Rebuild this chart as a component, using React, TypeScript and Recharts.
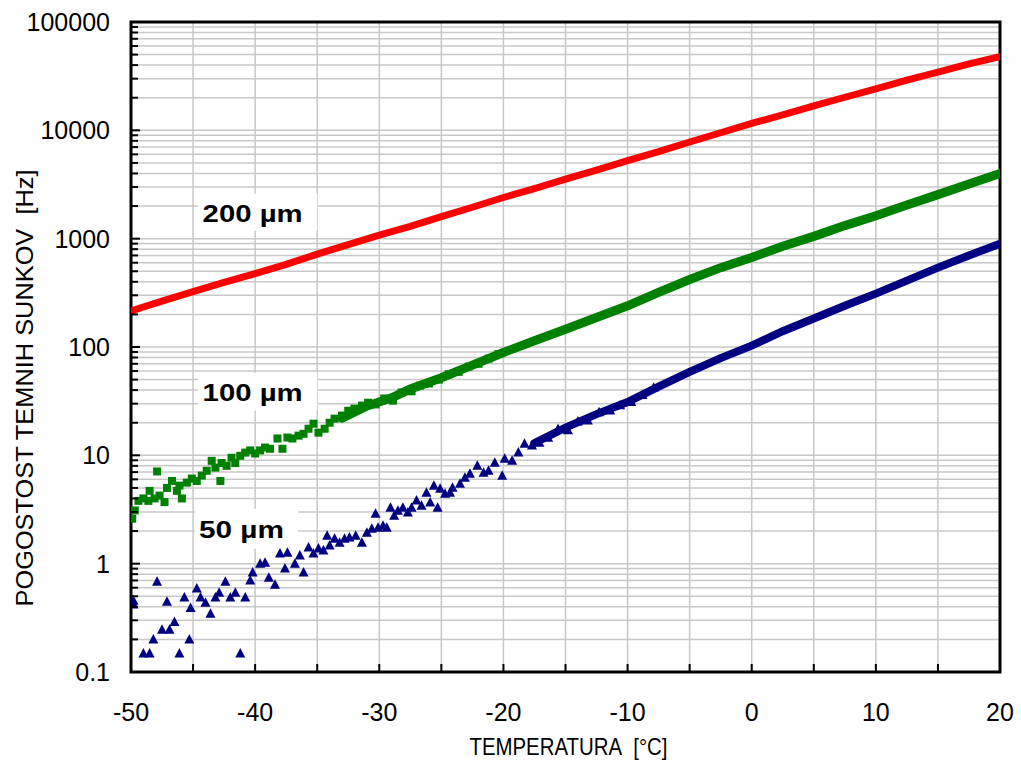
import {
  ComposedChart, Line, Scatter, XAxis, YAxis, CartesianGrid, ReferenceArea,
} from 'recharts';

// [temperature °C, dark count rate Hz]
const red200: [number, number][] = [
  [-50, 215], [-47.5, 265], [-45, 325], [-42.5, 395], [-40, 475], [-37.5, 580],
  [-35, 720], [-32.5, 880], [-30, 1080], [-27.5, 1300], [-25, 1600], [-22.5, 1950],
  [-20, 2400], [-17.5, 2900], [-15, 3550], [-12.5, 4300], [-10, 5250], [-7.5, 6350],
  [-5, 7800], [-2.5, 9500], [0, 11600], [2.5, 13900], [5, 16800], [7.5, 20200],
  [10, 24200], [12.5, 29000], [15, 34500], [17.5, 41000], [20, 48000],
];

const green100Sparse: [number, number][] = [
  [-49.9, 2.6], [-49.7, 3.1], [-49.4, 3.8], [-49.0, 4.0], [-48.6, 3.8], [-48.5, 4.7],
  [-48.1, 4.0], [-47.9, 7.1], [-47.7, 4.25], [-47.3, 3.7], [-47.1, 5.0], [-46.7, 5.8],
  [-46.3, 4.7], [-46.1, 5.25], [-45.9, 4.0], [-45.5, 5.6], [-45.1, 6.1], [-44.7, 5.8],
  [-44.3, 6.5], [-43.9, 7.2], [-43.5, 8.9], [-43.2, 7.7], [-42.8, 5.8], [-42.7, 8.5],
  [-42.3, 8.0], [-41.9, 9.5], [-41.6, 8.5], [-41.2, 9.9], [-40.8, 10.6], [-40.4, 11.1],
  [-40.0, 10.4], [-39.6, 11.1], [-39.2, 11.8], [-38.8, 11.5], [-38.2, 14.3], [-37.8, 11.5],
  [-37.4, 14.6], [-37.0, 14.3], [-36.5, 15.2], [-36.1, 15.8], [-35.7, 17.6], [-35.3, 19.6],
  [-34.9, 16.2], [-34.4, 17.6], [-34.0, 20.0], [-33.6, 21.8], [-33.0, 23.3], [-32.5, 25.8],
  [-32.0, 27], [-31.4, 28.8], [-30.9, 30.6], [-30.3, 29.5], [-29.6, 33.5], [-28.9, 32],
  [-28.2, 38], [-27.4, 39], [-26.7, 44], [-26.0, 46], [-25.2, 50], [-24.4, 56],
  [-23.6, 59], [-22.8, 66], [-22.0, 70], [-21.2, 78], [-20.4, 86],
];

const green100Dense: [number, number][] = [
  [-33, 22], [-31, 28.5], [-29, 34], [-27.5, 41], [-25, 52], [-22.5, 68], [-20, 89],
  [-17.5, 114], [-15, 146], [-12.5, 187], [-10, 240], [-7.5, 320], [-5, 420],
  [-2.5, 540], [0, 670], [2.5, 850], [5, 1050], [7.5, 1320], [10, 1630],
  [12.5, 2050], [15, 2550], [17.5, 3200], [20, 3990],
];

const blue50Sparse: [number, number][] = [
  [-49.8, 0.455], [-49.8, 0.42], [-49.0, 0.148], [-48.5, 0.148], [-48.2, 0.2], [-47.9, 0.68],
  [-47.5, 0.246], [-47.1, 0.446], [-46.9, 0.246], [-46.5, 0.29], [-46.1, 0.148], [-45.7, 0.486],
  [-45.3, 0.2], [-45.2, 0.39], [-44.7, 0.59], [-44.4, 0.486], [-44.0, 0.436], [-43.6, 0.345],
  [-43.2, 0.486], [-42.9, 0.54], [-42.4, 0.68], [-42.0, 0.486], [-41.6, 0.54], [-41.2, 0.148],
  [-40.8, 0.486], [-40.4, 0.7], [-40.2, 0.83], [-39.6, 1.0], [-39.2, 1.02], [-38.9, 0.74],
  [-38.4, 0.64], [-38.0, 1.24], [-37.6, 0.9], [-37.4, 1.26], [-36.8, 1.0], [-36.4, 1.19],
  [-36.1, 0.83], [-35.7, 1.41], [-35.3, 1.24], [-34.9, 1.38], [-34.5, 1.32], [-34.2, 1.81],
  [-34.0, 1.47], [-33.6, 1.7], [-33.2, 1.56], [-32.8, 1.7], [-32.4, 1.74], [-31.9, 1.81],
  [-31.4, 1.56], [-31.0, 1.93], [-30.6, 2.1], [-30.3, 2.89], [-30.1, 2.15], [-29.7, 2.24],
  [-29.4, 2.15], [-29.1, 3.29], [-28.8, 2.77], [-28.5, 3.08], [-28.1, 3.29], [-27.7, 2.96],
  [-27.4, 3.29], [-27.0, 3.82], [-26.6, 3.43], [-26.2, 4.52], [-25.9, 3.66], [-25.6, 5.25],
  [-25.3, 3.29], [-25.1, 4.92], [-24.7, 4.43], [-24.3, 4.52], [-24.1, 5.02], [-23.5, 5.47],
  [-23.1, 6.22], [-22.7, 6.77], [-22.1, 8.03], [-21.6, 6.92], [-21.2, 7.22], [-20.7, 8.55],
  [-20.1, 6.49], [-19.9, 9.31], [-19.3, 8.93], [-18.8, 10.6], [-18.3, 12.8], [-17.7, 12.3],
  [-17.1, 13.1], [-16.4, 14.5], [-15.6, 17.5], [-14.8, 17], [-14.0, 20.5], [-13.2, 21],
  [-12.3, 25], [-11.4, 26], [-10.6, 29], [-9.7, 31], [-8.8, 36], [-7.9, 42],
];

const blue50Dense: [number, number][] = [
  [-17.5, 13.0], [-15, 18], [-12.5, 24], [-10, 31], [-7.5, 43], [-5, 59], [-2.5, 79],
  [0, 103], [2.5, 140], [5, 183], [7.5, 240], [10, 311], [12.5, 410], [15, 540],
  [17.5, 700], [20, 900],
];

const xTicks = [-50, -45, -40, -35, -30, -25, -20, -15, -10, -5, 0, 5, 10, 15, 20];
const decades = [0.1, 1, 10, 100, 1000, 10000];
const yTicks = [...decades.flatMap((d) => [1, 2, 3, 4, 5, 6, 7, 8, 9].map((k) => k * d)), 100000];

const toPts = (arr: [number, number][]) => arr.map(([t, v]) => ({ t, v }));

const FONT = '"Liberation Sans", Arial, sans-serif';
const X_MARGIN = 31;
const Y_MARGIN = 21;

const XTick = (props: any) => {
  const { x, y, payload } = props;
  const axisY = y - X_MARGIN;
  const val = payload.value;
  const inner = val > -50 && val < 20;
  return (
    <g>
      {inner && <line x1={x} x2={x} y1={axisY} y2={axisY - 8} stroke="#000" strokeWidth={2} />}
      {val % 10 === 0 && (
        <text x={x} y={y} dy="0.71em" textAnchor="middle" fontSize={25} fontFamily={FONT} fill="#000">
          {val}
        </text>
      )}
    </g>
  );
};

const YTick = (props: any) => {
  const { x, y, payload } = props;
  const axisX = x + Y_MARGIN;
  const v = payload.value;
  const lg = Math.log10(v);
  const major = Math.abs(lg - Math.round(lg)) < 1e-6;
  return (
    <g>
      <line x1={axisX} x2={axisX + (major ? 9 : 7)} y1={y} y2={y} stroke="#000" strokeWidth={2} />
      {major && (
        <text x={x} y={y} dy="0.36em" textAnchor="end" fontSize={25} fontFamily={FONT} fill="#000">
          {v < 1 ? '0.1' : String(Math.round(v))}
        </text>
      )}
    </g>
  );
};

const BoxLabel = (props: any) => {
  const { viewBox, text } = props;
  if (!viewBox) return null;
  const cx = viewBox.x + viewBox.width / 2 - 5;
  const cy = viewBox.y + viewBox.height / 2 + 1;
  return (
    <text x={cx} y={cy} dy="0.36em" textAnchor="middle" fontSize={24} fontWeight="bold"
      fontFamily={FONT} fill="#000" textLength={text === '50 µm' ? 85 : 100} lengthAdjust="spacingAndGlyphs">
      {text}
    </text>
  );
};

const XTitle = (props: any) => {
  const vb = props.viewBox;
  if (!vb) return null;
  return (
    <text x={vb.x + vb.width / 2 + 3} y={vb.y + vb.height - 12} textAnchor="middle" fontSize={24}
      fontFamily={FONT} fill="#000" textLength={198} lengthAdjust="spacingAndGlyphs">
      {'TEMPERATURA\u00a0\u00a0[°C]'}
    </text>
  );
};

const YTitle = (props: any) => {
  const vb = props.viewBox;
  if (!vb) return null;
  const cx = vb.x + 13;
  const cy = vb.y + vb.height / 2 + 41;
  return (
    <text x={cx} y={cy} dy="0.36em" transform={`rotate(-90 ${cx} ${cy})`} textAnchor="middle"
      fontSize={24} fontFamily={FONT} fill="#000" textLength={437} lengthAdjust="spacingAndGlyphs">
      {'POGOSTOST TEMNIH SUNKOV\u00a0\u00a0[Hz]'}
    </text>
  );
};

const Square = (p: any) => (
  <rect x={p.cx - 4} y={p.cy - 4} width={8} height={8} fill="#008000" />
);

const Tri = (p: any) => (
  <polygon
    points={`${p.cx},${p.cy - 5.5} ${p.cx + 5},${p.cy + 4} ${p.cx - 5},${p.cy + 4}`}
    fill="#000080"
  />
);

export default function App() {
  return (
    <div style={{ position: 'absolute', left: 0, top: 0, background: '#fff' }}>
      <ComposedChart width={1021} height={767} margin={{ top: 22, right: 21, bottom: 0, left: 11 }}>
        <CartesianGrid stroke="#c8c8c8" strokeWidth={1.5} />
        <XAxis
          dataKey="t"
          type="number"
          domain={[-50, 20]}
          ticks={xTicks}
          interval={0}
          allowDataOverflow
          axisLine={false}
          tickLine={false}
          tickSize={0}
          tickMargin={X_MARGIN}
          height={95}
          tick={<XTick />}
          label={<XTitle />}
        />
        <YAxis
          type="number"
          scale="log"
          domain={[0.1, 100000]}
          ticks={yTicks}
          interval={0}
          allowDataOverflow
          axisLine={false}
          tickLine={false}
          tickSize={0}
          tickMargin={Y_MARGIN}
          width={120}
          tick={<YTick />}
          label={<YTitle />}
        />
        <ReferenceArea x1={-44.6} x2={-35.0} y1={1190} y2={2600} fill="#fff" fillOpacity={1} stroke="none"
          label={<BoxLabel text="200 µm" />} />
        <ReferenceArea x1={-44.6} x2={-35.0} y1={25.9} y2={58} fill="#fff" fillOpacity={1} stroke="none"
          label={<BoxLabel text="100 µm" />} />
        <ReferenceArea x1={-44.85} x2={-36.55} y1={1.375} y2={3.22} fill="#fff" fillOpacity={1} stroke="none"
          label={<BoxLabel text="50 µm" />} />
        <Line data={toPts(red200)} dataKey="v" stroke="#ff0000" strokeWidth={7} strokeLinecap="round"
          dot={false} isAnimationActive={false} type="linear" />
        <Line data={toPts(green100Dense)} dataKey="v" stroke="#008000" strokeWidth={9} strokeLinecap="round"
          dot={false} isAnimationActive={false} type="linear" />
        <Scatter data={toPts(green100Sparse)} dataKey="v" shape={<Square />} isAnimationActive={false} />
        <Line data={toPts(blue50Dense)} dataKey="v" stroke="#000080" strokeWidth={8} strokeLinecap="round"
          dot={false} isAnimationActive={false} type="linear" />
        <Scatter data={toPts(blue50Sparse)} dataKey="v" shape={<Tri />} isAnimationActive={false} />
        <ReferenceArea x1={-50} x2={20} y1={0.1} y2={100000} fill="none" stroke="#000" strokeWidth={3}
          ifOverflow="visible" />
      </ComposedChart>
    </div>
  );
}
